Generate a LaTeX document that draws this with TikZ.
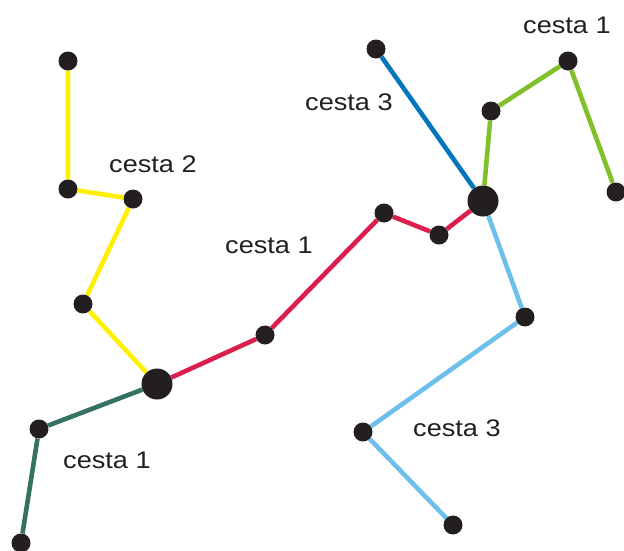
\documentclass[tikz,border=0pt]{standalone}
\usepackage{fontspec}
\usetikzlibrary{backgrounds}
\newfontfamily\cestafont[FakeStretch=1.13]{Liberation Sans}
\newcommand{\LW}{4.6pt}
\definecolor{dotblack}{RGB}{35,31,32}
\definecolor{pyellow}{RGB}{255,240,0}
\definecolor{pred}{RGB}{220,30,78}
\definecolor{pblue}{RGB}{0,118,190}
\definecolor{pgreen}{RGB}{128,192,40}
\definecolor{plight}{RGB}{110,192,236}
\definecolor{pteal}{RGB}{52,114,100}

\begin{document}
\begin{tikzpicture}[
    x=1pt, y=-1pt,
    dot/.style={circle, fill=dotblack, inner sep=0pt, minimum size=19pt},
    hub/.style={circle, fill=dotblack, inner sep=0pt, minimum size=31pt},
    path/.style={line width=\LW},
    tag/.style={anchor=base west, inner sep=0pt, text=dotblack,
                font=\cestafont\fontsize{24}{28}\selectfont},
  ]
  \useasboundingbox (0,0) rectangle (624,550);

  % branching points
  \node[hub] (A) at (157,384) {};
  \node[hub] (B) at (483,201) {};

  % ordinary points
  \foreach \n/\x/\y in {y1/68/61, y2/68/189, y3/133/199, y4/83/304,
                        r1/265/335, r2/384/213, r3/439/235,
                        b1/376/49,
                        g1/491/111, g2/568/61, g3/616/192,
                        l1/525/317, l2/363/432, l3/453/525,
                        t1/39/429, t2/21/543}
    \node[dot] (\n) at (\x,\y) {};

  % paths between the points
  \begin{scope}[on background layer]
    \draw[path, pyellow] (y1) -- (y2) -- (y3) -- (y4) -- (A);
    \draw[path, pred]    (A) -- (r1) -- (r2) -- (r3) -- (B);
    \draw[path, pblue]   (b1) -- (B);
    \draw[path, pgreen]  (B) -- (g1) -- (g2) -- (g3);
    \draw[path, plight]  (B) -- (l1) -- (l2) -- (l3);
    \draw[path, pteal]   (A) -- (t1) -- (t2);
  \end{scope}

  % labels
  \node[tag] (c2)  at (109,172) {cesta 2};
  \node[tag] (c1m) at (225,253) {cesta 1};
  \node[tag] (c3t) at (305,110) {cesta 3};
  \node[tag] (c1t) at (523,33)  {cesta 1};
  \node[tag] (c1b) at (63,468)  {cesta 1};
  \node[tag] (c3b) at (413,436) {cesta 3};

\end{tikzpicture}
\end{document}
